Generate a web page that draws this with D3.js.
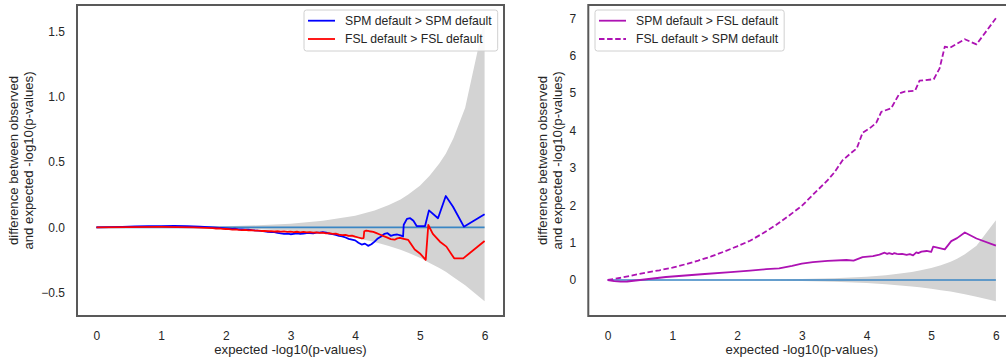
<!DOCTYPE html>
<html>
<head>
<meta charset="utf-8">
<script src="https://cdn.jsdelivr.net/npm/d3@7"></script>
<style>
  html, body { margin: 0; padding: 0; background: #fff; }
  svg { display: block; font-family: "Liberation Sans", Arial, sans-serif; }
</style>
</head>
<body>
<svg id="chart" width="1006" height="362"></svg>
<script>
// ---------- DATA ----------
const xTicks = [0, 1, 2, 3, 4, 5, 6];
const leftYTicks = [-0.5, 0.0, 0.5, 1.0, 1.5];
const rightYTicks = [0, 1, 2, 3, 4, 5, 6, 7];

// 95% band (shared by both panels)
const bandX     = [0, 0.5, 1, 1.5, 2, 2.5, 3, 3.5, 4, 4.3, 4.52, 4.7, 4.82, 5, 5.15, 5.3, 5.4, 5.52, 5.7, 6];
const bandUpper = [0, 0.0015, 0.0027, 0.0048, 0.0086, 0.0155, 0.028, 0.05, 0.089, 0.129, 0.171, 0.214, 0.252, 0.319, 0.396, 0.489, 0.565, 0.686, 0.917, 1.597];
const bandLower = [0, -0.0015, -0.0027, -0.0047, -0.0084, -0.015, -0.026, -0.047, -0.081, -0.112, -0.144, -0.171, -0.195, -0.233, -0.274, -0.311, -0.341, -0.382, -0.445, -0.567];

// Left panel: SPM default > SPM default (blue)
const spmSpmX = [0, 0.2, 0.4, 0.6, 0.8, 1.0, 1.2, 1.4, 1.6, 1.8,
  2.0, 2.05, 2.1, 2.15, 2.2, 2.25, 2.3, 2.35, 2.4, 2.45, 2.5, 2.55, 2.6, 2.65, 2.7, 2.75, 2.8, 2.85, 2.9, 2.95,
  3.0, 3.05, 3.1, 3.15, 3.2, 3.25, 3.3, 3.35, 3.4, 3.45, 3.5, 3.55, 3.6, 3.65, 3.7, 3.75, 3.8, 3.85, 3.9, 3.95,
  4.0, 4.05, 4.1, 4.15, 4.2, 4.25, 4.3, 4.35, 4.4, 4.45, 4.5, 4.55, 4.6, 4.65, 4.7, 4.74,
  4.75, 4.8, 4.85, 4.9, 4.95, 5.08, 5.14, 5.28, 5.40, 5.51, 5.68, 6.0];
const spmSpmY = [0, 0.002, 0.004, 0.007, 0.009, 0.01, 0.011, 0.01, 0.005, 0.0,
  -0.008, -0.01, -0.012, -0.011, -0.015, -0.016, -0.018, -0.017, -0.021, -0.024, -0.026, -0.027, -0.031, -0.034, -0.037, -0.036, -0.042, -0.046, -0.05, -0.048,
  -0.053, -0.05, -0.047, -0.051, -0.048, -0.045, -0.044, -0.046, -0.04, -0.041, -0.036, -0.04, -0.048, -0.052, -0.058, -0.066, -0.07, -0.078, -0.088, -0.094,
  -0.10, -0.118, -0.132, -0.125, -0.142, -0.13, -0.11, -0.085, -0.07, -0.05, -0.045, -0.065, -0.058, -0.055, -0.062, -0.07,
  0.02, 0.065, 0.07, 0.05, 0.01, 0.01, 0.13, 0.07, 0.24, 0.16, 0.005, 0.10];

// Left panel: FSL default > FSL default (red)
const fslFslX = [0, 0.5, 1.0, 1.5, 1.8, 1.85, 1.9, 1.95, 2.0, 2.05, 2.1, 2.15, 2.2, 2.25, 2.3, 2.35, 2.4, 2.45, 2.5, 2.55, 2.6, 2.65, 2.7, 2.75, 2.8, 2.85, 2.9, 2.95,
  3.0, 3.05, 3.1, 3.15, 3.2, 3.25, 3.3, 3.35, 3.4, 3.45, 3.5, 3.55, 3.6, 3.65, 3.7, 3.75, 3.8, 3.85, 3.9, 3.95,
  4.0, 4.05, 4.1, 4.13, 4.14, 4.17, 4.22, 4.28, 4.33, 4.38, 4.43, 4.48, 4.55, 4.61, 4.65, 4.69, 4.75, 4.82, 4.92, 5.0, 5.09, 5.13, 5.2, 5.31, 5.41, 5.53, 5.67, 6.0];
const fslFslY = [0, 0.002, 0.003, 0.0, -0.006, -0.009, -0.008, -0.012, -0.013, -0.014, -0.017, -0.016, -0.019, -0.021, -0.02, -0.024, -0.022, -0.026, -0.025, -0.028, -0.027, -0.03, -0.029, -0.032, -0.03, -0.033, -0.031, -0.035,
  -0.033, -0.036, -0.034, -0.038, -0.035, -0.039, -0.037, -0.04, -0.038, -0.042, -0.04, -0.046, -0.045, -0.05, -0.049, -0.056, -0.06, -0.058, -0.066, -0.063,
  -0.072, -0.078, -0.084, -0.082, -0.03, -0.025, -0.03, -0.035, -0.045, -0.055, -0.065, -0.075, -0.09, -0.095, -0.085, -0.08, -0.088, -0.097, -0.17, -0.2, -0.25, 0.018, -0.05, -0.11, -0.148, -0.238, -0.238, -0.105];

// Right panel: SPM default > FSL default (solid magenta)
const spmFslX = [0, 0.1, 0.2, 0.3, 0.4, 0.6, 0.9, 1.2, 1.5, 1.9, 2.2, 2.45, 2.65, 2.85, 3.0, 3.17, 3.4, 3.69, 3.8, 3.94, 4.1, 4.2, 4.28, 4.32, 4.35, 4.4, 4.43, 4.47, 4.5, 4.55, 4.62, 4.67, 4.72, 4.77, 4.8, 4.85, 4.93, 5.0, 5.03, 5.21, 5.31, 5.4, 5.52, 5.70, 6.0];
const spmFslY = [0, -0.03, -0.045, -0.04, -0.02, 0.02, 0.08, 0.12, 0.16, 0.21, 0.25, 0.29, 0.31, 0.38, 0.44, 0.48, 0.51, 0.535, 0.52, 0.61, 0.64, 0.68, 0.73, 0.7, 0.72, 0.69, 0.72, 0.7, 0.69, 0.7, 0.67, 0.69, 0.66, 0.74, 0.72, 0.76, 0.776, 0.75, 0.89, 0.82, 1.04, 1.12, 1.27, 1.11, 0.92];

// Right panel: FSL default > SPM default (dashed magenta)
const fslSpmX = [0, 0.2, 0.4, 0.6, 0.8, 1.0, 1.2, 1.4, 1.6, 1.8, 2.0, 2.2, 2.4, 2.6, 2.8, 3.0, 3.2, 3.4, 3.5, 3.63, 3.75, 3.85, 3.94, 4.05, 4.15, 4.23, 4.38, 4.51, 4.59, 4.75, 4.82, 5.04, 5.13, 5.21, 5.29, 5.52, 5.70, 6.0];
const fslSpmY = [0, 0.06, 0.13, 0.2, 0.26, 0.33, 0.42, 0.52, 0.63, 0.76, 0.9, 1.05, 1.25, 1.47, 1.72, 1.98, 2.33, 2.67, 2.87, 3.2, 3.38, 3.52, 3.94, 4.06, 4.2, 4.50, 4.59, 4.99, 5.04, 5.06, 5.33, 5.37, 5.66, 6.24, 6.21, 6.44, 6.30, 7.0];

// ---------- DRAW ----------
const svg = d3.select("#chart");
const zip = (xs, ys) => xs.map((x, i) => [x, ys[i]]);
const band = bandX.map((x, i) => ({x, lo: bandLower[i], hi: bandUpper[i]}));

function panel(cfg) {
  const x = d3.scaleLinear().domain([-0.3, 6.3]).range([cfg.left, cfg.left + cfg.width]);
  const y = d3.scaleLinear().domain(cfg.yDomain).range([cfg.top + cfg.height, cfg.top]);
  const g = svg.append("g");
  const clipId = "clip" + cfg.id;
  svg.append("defs").append("clipPath").attr("id", clipId)
    .append("rect").attr("x", cfg.left).attr("y", cfg.top).attr("width", cfg.width).attr("height", cfg.height);
  const plot = g.append("g").attr("clip-path", `url(#${clipId})`);

  plot.append("path").datum(band)
    .attr("fill", "#d3d3d3")
    .attr("d", d3.area().x(d => x(d.x)).y0(d => y(d.lo)).y1(d => y(d.hi)));

  plot.append("line")
    .attr("x1", x(0)).attr("x2", x(6)).attr("y1", y(0)).attr("y2", y(0))
    .attr("stroke", "#3a86c4").attr("stroke-width", 1.7);

  const line = d3.line().x(d => x(d[0])).y(d => y(d[1]));
  cfg.series.forEach(s => {
    plot.append("path").datum(zip(s.xs, s.ys))
      .attr("fill", "none").attr("stroke", s.color).attr("stroke-width", 1.8)
      .attr("stroke-linejoin", "round")
      .attr("stroke-dasharray", s.dash || null)
      .attr("d", line);
  });

  // frame
  g.append("rect").attr("x", cfg.left).attr("y", cfg.top).attr("width", cfg.width).attr("height", cfg.height)
    .attr("fill", "none").attr("stroke", "#595959").attr("stroke-width", 2);

  // axes (no tick marks)
  const xAxis = g.append("g").attr("transform", `translate(0,${cfg.top + cfg.height})`)
    .call(d3.axisBottom(x).tickValues(xTicks).tickSize(0).tickPadding(15).tickFormat(d3.format("d")));
  const yAxis = g.append("g").attr("transform", `translate(${cfg.left},0)`)
    .call(d3.axisLeft(y).tickValues(cfg.yTicks).tickSize(0).tickPadding(12).tickFormat(cfg.yFormat));
  [xAxis, yAxis].forEach(a => {
    a.select(".domain").remove();
    a.selectAll("text").attr("fill", "#262626").style("font-size", "12px")
      .style("font-family", '"Liberation Sans", Arial, sans-serif');
  });

  // axis labels
  g.append("text").attr("x", cfg.left + cfg.width / 2).attr("y", 354)
    .attr("text-anchor", "middle").attr("fill", "#262626").style("font-size", "13.2px")
    .text("expected -log10(p-values)");
  const yl = ["difference between observed", "and expected -log10(p-values)"];
  yl.forEach((t, i) => {
    g.append("text")
      .attr("transform", `translate(${cfg.ylabX + i * 15},${cfg.top + cfg.height / 2}) rotate(-90)`)
      .attr("text-anchor", "middle").attr("dominant-baseline", "central")
      .attr("fill", "#262626").style("font-size", "13.2px").text(t);
  });

  // legend
  const lg = g.append("g");
  const box = lg.append("rect").attr("x", cfg.legX).attr("y", 10).attr("height", 41)
    .attr("rx", 2.5).attr("fill", "#fff").attr("fill-opacity", 0.85)
    .attr("stroke", "#d0d0d0").attr("stroke-width", 1);
  let maxW = 0;
  cfg.series.forEach((s, i) => {
    const yy = 20.7 + i * 18.3;
    lg.append("line").attr("x1", cfg.legX + 4).attr("x2", cfg.legX + 31).attr("y1", yy).attr("y2", yy)
      .attr("stroke", s.color).attr("stroke-width", 1.8).attr("stroke-dasharray", s.dash || null);
    const t = lg.append("text").attr("x", cfg.legX + 41).attr("y", yy)
      .attr("dominant-baseline", "central").attr("fill", "#262626").style("font-size", "12.2px").text(s.name);
    maxW = Math.max(maxW, t.node().getComputedTextLength());
  });
  box.attr("width", 41 + maxW + 6);
}

panel({
  id: "L", left: 77, top: 5, width: 427, height: 311,
  yDomain: [-0.68, 1.705], yTicks: leftYTicks, yFormat: d => d3.format(".1f")(d).replace("-", "\u2212"),
  ylabX: 13.3, legX: 304,
  series: [
    {name: "SPM default > SPM default", xs: spmSpmX, ys: spmSpmY, color: "#0000ff"},
    {name: "FSL default > FSL default", xs: fslFslX, ys: fslFslY, color: "#ff0000"}
  ]
});

panel({
  id: "R", left: 588.3, top: 5, width: 427, height: 311,
  yDomain: [-0.963, 7.355], yTicks: rightYTicks, yFormat: d3.format("d"),
  ylabX: 542.7, legX: 595,
  series: [
    {name: "SPM default > FSL default", xs: spmFslX, ys: spmFslY, color: "#ad12b3"},
    {name: "FSL default > SPM default", xs: fslSpmX, ys: fslSpmY, color: "#ad12b3", dash: "5.5,2.6"}
  ]
});
</script>
</body>
</html>
